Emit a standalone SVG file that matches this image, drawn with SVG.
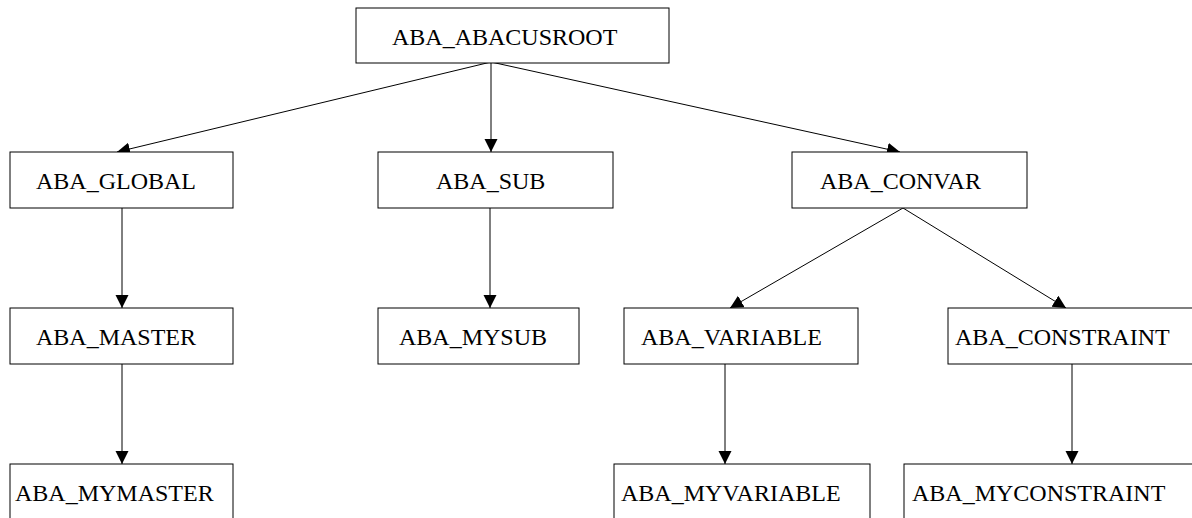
<svg xmlns="http://www.w3.org/2000/svg" width="1192" height="518" viewBox="0 0 1192 518">
<style>
.box{fill:#fff;stroke:#000;stroke-width:1}
.lbl{font-family:"Liberation Serif","Times New Roman",serif;font-size:24px;fill:#000}
.edge{stroke:#000;stroke-width:1;fill:none;marker-end:url(#arr)}
</style>
<defs>
<marker id="arr" markerUnits="userSpaceOnUse" markerWidth="14" markerHeight="14" refX="13" refY="6.5" orient="auto">
<path d="M0,0 L13,6.5 L0,13 z" fill="#000"/>
</marker>
</defs>
<rect width="1192" height="518" fill="#fff"/>
<g id="connectors">
<line class="edge" x1="491" y1="62" x2="117" y2="152"/>
<line class="edge" x1="491" y1="62" x2="491" y2="152"/>
<line class="edge" x1="491" y1="62" x2="900" y2="152"/>
<line class="edge" x1="122" y1="208" x2="122" y2="308"/>
<line class="edge" x1="490" y1="208" x2="490" y2="308"/>
<line class="edge" x1="903" y1="208" x2="730" y2="308"/>
<line class="edge" x1="903" y1="208" x2="1066" y2="308"/>
<line class="edge" x1="122" y1="364" x2="122" y2="464"/>
<line class="edge" x1="725" y1="364" x2="725" y2="464"/>
<line class="edge" x1="1072" y1="364" x2="1072" y2="464"/>
</g>
<g id="n_root"><rect class="box" x="356" y="8" width="313" height="55"/><text class="lbl" x="392" y="45">ABA_ABACUSROOT</text></g>
<g id="n_global"><rect class="box" x="10" y="152" width="223" height="56"/><text class="lbl" x="36" y="189">ABA_GLOBAL</text></g>
<g id="n_sub"><rect class="box" x="378" y="152" width="235" height="56"/><text class="lbl" x="436" y="189">ABA_SUB</text></g>
<g id="n_convar"><rect class="box" x="792" y="152" width="235" height="56"/><text class="lbl" x="820" y="189">ABA_CONVAR</text></g>
<g id="n_master"><rect class="box" x="10" y="308" width="223" height="56"/><text class="lbl" x="36" y="345">ABA_MASTER</text></g>
<g id="n_mysub"><rect class="box" x="378" y="308" width="201" height="56"/><text class="lbl" x="399" y="345">ABA_MYSUB</text></g>
<g id="n_variable"><rect class="box" x="624" y="308" width="234" height="56"/><text class="lbl" x="641" y="345">ABA_VARIABLE</text></g>
<g id="n_constraint"><rect class="box" x="948" y="308" width="260" height="56"/><text class="lbl" x="955" y="345">ABA_CONSTRAINT</text></g>
<g id="n_mymaster"><rect class="box" x="10" y="464" width="223" height="56"/><text class="lbl" x="15" y="501">ABA_MYMASTER</text></g>
<g id="n_myvariable"><rect class="box" x="614" y="464" width="256" height="56"/><text class="lbl" x="621" y="501">ABA_MYVARIABLE</text></g>
<g id="n_myconstraint"><rect class="box" x="904" y="464" width="300" height="56"/><text class="lbl" x="912" y="501">ABA_MYCONSTRAINT</text></g>
</svg>
